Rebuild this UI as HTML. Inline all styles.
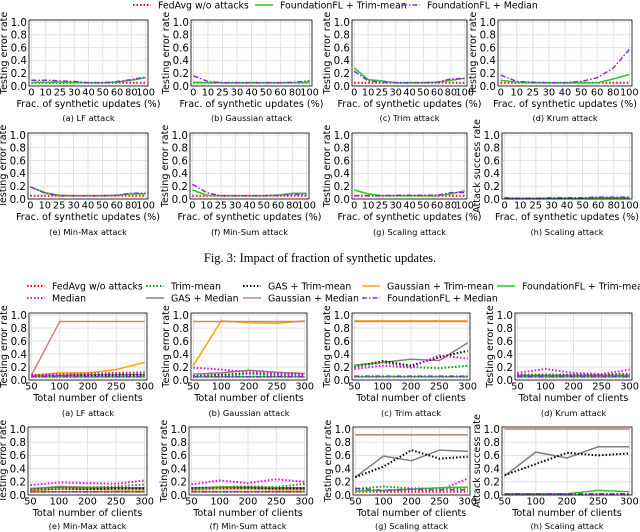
<!DOCTYPE html>
<html><head><meta charset="utf-8"><style>
body{margin:0;background:#fff;}
svg{display:block;font-family:"DejaVu Sans","Liberation Sans",sans-serif;}
</style></head><body>
<svg id="chart" width="640" height="532" viewBox="0 0 640 532" xmlns="http://www.w3.org/2000/svg">
<text x="320" y="262" text-anchor="middle" font-family="Liberation Serif, serif" font-size="12.5">Fig. 3: Impact of fraction of synthetic updates.</text>
</svg>
<script>
const fracTicks=["0","10","25","30","40","50","60","80","100"];
const clientTicks=["50","100","200","250","300"];
const yTicks=[0,0.2,0.4,0.6,0.8,1.0];
// Fig 3 series (per panel)
const f3Red=[0.05,0.05,0.05,0.05,0.05,0.05,0.05,0.01];
const f3Green=[
[0.06,0.06,0.06,0.06,0.05,0.05,0.06,0.09,0.13],
[0.06,0.05,0.05,0.05,0.05,0.05,0.05,0.05,0.06],
[0.28,0.10,0.08,0.05,0.05,0.05,0.06,0.09,0.12],
[0.09,0.06,0.05,0.05,0.05,0.05,0.05,0.11,0.18],
[0.19,0.10,0.06,0.05,0.05,0.05,0.06,0.08,0.08],
[0.14,0.06,0.05,0.05,0.05,0.05,0.06,0.09,0.09],
[0.14,0.08,0.05,0.05,0.05,0.05,0.05,0.08,0.13],
[0.01,0.01,0.01,0.01,0.01,0.01,0.02,0.02,0.02]];
const f3Purple=[
[0.09,0.09,0.08,0.07,0.05,0.05,0.07,0.10,0.14],
[0.16,0.07,0.05,0.05,0.05,0.05,0.05,0.06,0.08],
[0.23,0.08,0.06,0.05,0.05,0.05,0.06,0.11,0.12],
[0.17,0.07,0.06,0.05,0.05,0.07,0.13,0.28,0.57],
[0.19,0.09,0.05,0.05,0.05,0.05,0.06,0.09,0.09],
[0.23,0.10,0.05,0.05,0.05,0.05,0.06,0.07,0.07],
[0.05,0.05,0.05,0.06,0.06,0.06,0.06,0.10,0.10],
[0.02,0.01,0.01,0.02,0.02,0.02,0.03,0.03,0.03]];
// Fig 4 series (per panel a..h)
const f4Red=[0.05,0.05,0.05,0.05,0.05,0.05,0.05,0.01];
const f4Median=[[0.08,0.09,0.10,0.11,0.12],[0.19,0.16,0.12,0.10,0.09],[0.17,0.22,0.19,0.38,0.33],[0.11,0.17,0.11,0.09,0.16],[0.15,0.19,0.18,0.17,0.22],[0.16,0.22,0.18,0.24,0.20],[0.10,0.06,0.08,0.07,0.25],[0.01,0.01,0.01,0.01,0.01]];
const f4Trim=[[0.07,0.08,0.09,0.10,0.10],[0.05,0.06,0.10,0.07,0.06],[0.20,0.27,0.20,0.18,0.22],[0.07,0.08,0.07,0.07,0.08],[0.08,0.11,0.11,0.13,0.16],[0.08,0.12,0.13,0.12,0.17],[0.09,0.13,0.10,0.10,0.11],[0.01,0.01,0.01,0.01,0.01]];
const f4GasMed=[[0.06,0.07,0.08,0.08,0.08],[0.09,0.11,0.15,0.12,0.10],[0.23,0.27,0.32,0.30,0.57],[0.07,0.07,0.07,0.07,0.07],[0.10,0.12,0.11,0.11,0.11],[0.11,0.12,0.12,0.11,0.11],[0.27,0.59,0.52,0.68,0.66],[0.29,0.65,0.56,0.73,0.73]];
const f4GasTrim=[[0.06,0.07,0.07,0.08,0.08],[0.06,0.08,0.10,0.09,0.08],[0.20,0.29,0.22,0.35,0.45],[0.08,0.08,0.08,0.08,0.09],[0.08,0.10,0.09,0.10,0.10],[0.10,0.11,0.11,0.10,0.10],[0.27,0.43,0.68,0.55,0.58],[0.30,0.47,0.64,0.60,0.63]];
const f4GaussMed=[[0.07,0.90,0.90,0.90,0.90],[0.90,0.90,0.90,0.90,0.90],[0.90,0.90,0.90,0.90,0.90],[0.06,0.06,0.06,0.06,0.06],[0.09,0.13,0.12,0.11,0.10],[0.09,0.12,0.11,0.10,0.09],[0.91,0.91,0.91,0.91,0.91],[1.0,1.0,1.0,1.0,1.0]];
const f4GaussTrim=[[0.07,0.11,0.11,0.16,0.27],[0.22,0.91,0.88,0.87,0.91],[0.91,0.91,0.91,0.91,0.91],[0.06,0.06,0.06,0.06,0.06],[0.07,0.09,0.09,0.08,0.08],[0.08,0.09,0.09,0.08,0.08],[0.91,0.91,0.91,0.91,0.91],[1.0,1.0,1.0,1.0,1.0]];
const f4FlTrim=[[0.05,0.05,0.05,0.05,0.05],[0.05,0.05,0.05,0.05,0.05],[0.05,0.05,0.05,0.05,0.05],[0.05,0.05,0.05,0.05,0.05],[0.05,0.05,0.05,0.05,0.05],[0.05,0.05,0.05,0.05,0.05],[0.06,0.07,0.09,0.11,0.12],[0.02,0.02,0.02,0.07,0.05]];
const f4FlMed=[[0.05,0.05,0.05,0.05,0.05],[0.05,0.05,0.05,0.05,0.05],[0.06,0.06,0.06,0.06,0.06],[0.05,0.05,0.05,0.05,0.05],[0.05,0.05,0.05,0.05,0.05],[0.05,0.05,0.05,0.05,0.05],[0.10,0.07,0.09,0.08,0.08],[0.02,0.02,0.02,0.02,0.02]];
const captions=["(a) LF attack","(b) Gaussian attack","(c) Trim attack","(d) Krum attack","(e) Min-Max attack","(f) Min-Sum attack","(g) Scaling attack","(h) Scaling attack"];

const NS="http://www.w3.org/2000/svg";
const svg=document.getElementById('chart');
function mk(tag,attrs,parent,text){const e=document.createElementNS(NS,tag);for(const k in attrs)e.setAttribute(k,attrs[k]);if(text!==undefined)e.textContent=text;(parent||svg).appendChild(e);return e;}

const STY={
 red:{stroke:"#ff0000",dash:"1.5,2",w:2},
 green:{stroke:"#22cc22",dash:"",w:1.5},
 purple:{stroke:"#8a2be2",dash:"5,2,1.5,2",w:1.5},
 median:{stroke:"#ee00ee",dash:"1.5,2",w:2},
 trim:{stroke:"#119911",dash:"1.5,2",w:2},
 gasMed:{stroke:"#808080",dash:"",w:1.5},
 gasTrim:{stroke:"#000000",dash:"1.5,2",w:2},
 gaussMed:{stroke:"#c08a80",dash:"",w:1.5},
 gaussTrim:{stroke:"#ffa500",dash:"",w:1.5}
};

function panel(box,ticks,xlab,ylab,cap,series,idx,grpName){
 const g=mk('g',{},svg);
 
 
 const {x0,x1,y0,y1}=box;
 const n=ticks.length;
 const pad=(x1-x0)*0.02;
 const xs=i=>x0+pad+i*(x1-x0-2*pad)/(n-1);
 const yv=v=>y1-(v)*(y1-y0-2)/1.0;
 for(let i=0;i<n;i++){
  const l=mk('line',{x1:xs(i),x2:xs(i),y1:y0,y2:y1,stroke:"#e0e0e0","stroke-width":1},g);
  
  
  const t=mk('text',{x:xs(i),y:y1+9.5,"text-anchor":"middle","font-size":"9.8"},g,ticks[i]);
  
  
 }
 yTicks.forEach(v=>{
  const l=mk('line',{x1:x0,x2:x1,y1:yv(v),y2:yv(v),stroke:"#e0e0e0","stroke-width":1},g);
  
  
  const t=mk('text',{x:x0-2,y:yv(v)+3.8,"text-anchor":"end","font-size":"10.3"},g,v.toFixed(1));
  
  
 });
 series.forEach(s=>{
  const st=STY[s.k];
  const pts=s.v.map((v,i)=>xs(i).toFixed(1)+","+yv(v).toFixed(1)).join(" ");
  const p=mk('polyline',{points:pts,fill:"none",stroke:st.stroke,"stroke-width":st.w,"stroke-dasharray":st.dash},g);
  
  
 });
 const r=mk('rect',{x:x0,y:y0,width:x1-x0,height:y1-y0,fill:"none",stroke:"#000","stroke-width":0.8},g);
 
 
 const xl=mk('text',{x:(x0+x1)/2,y:y1+21,"text-anchor":"middle","font-size":"9.6"},g,xlab);
 
 
 const cy=(y0+y1)/2;
 const yl=mk('text',{x:x0-22,y:cy,"text-anchor":"middle","font-size":"9.6",transform:`rotate(-90 ${x0-22} ${cy})`},g,ylab);
 
 
 const c=mk('text',{x:(x0+x1)/2,y:cap,"text-anchor":"middle","font-size":"8.3"},g,captions[idx]);
 
 
}

const f3Boxes=[
 {x0:29,x1:148,y0:20,y1:86,c:121},{x0:191,x1:312,y0:20,y1:86,c:121},{x0:352,x1:467,y0:20,y1:86,c:121},{x0:498,x1:632,y0:20,y1:86,c:121},
 {x0:28,x1:148,y0:133,y1:199,c:235},{x0:190,x1:309,y0:133,y1:199,c:235},{x0:352,x1:467,y0:133,y1:199,c:235},{x0:502,x1:632,y0:133,y1:199,c:235}];
f3Boxes.forEach((b,i)=>{
 panel(b,fracTicks,"Frac. of synthetic updates (%)",i===7?"Attack success rate":"Testing error rate",b.c,
  [{k:"red",v:fracTicks.map(()=>f3Red[i])},{k:"green",v:f3Green[i]},{k:"purple",v:f3Purple[i]}],i,"fig3-panel-"+"abcdefgh"[i]);
});
const f4Boxes=[
 {x0:29,x1:147,y0:313,y1:380,c:416},{x0:191,x1:307,y0:313,y1:380,c:416},{x0:352,x1:470,y0:313,y1:380,c:416},{x0:515,x1:632,y0:313,y1:380,c:416},
 {x0:28,x1:147,y0:427,y1:495,c:529},{x0:189,x1:307,y0:427,y1:495,c:529},{x0:353,x1:470,y0:427,y1:495,c:529},{x0:502,x1:632,y0:427,y1:495,c:529}];
f4Boxes.forEach((b,i)=>{
 panel(b,clientTicks,"Total number of clients",i===7?"Attack success rate":"Testing error rate",b.c,
  [{k:"gaussTrim",v:f4GaussTrim[i]},{k:"gaussMed",v:f4GaussMed[i]},{k:"gasMed",v:f4GasMed[i]},{k:"gasTrim",v:f4GasTrim[i]},
   {k:"trim",v:f4Trim[i]},{k:"median",v:f4Median[i]},{k:"red",v:clientTicks.map(()=>f4Red[i])},{k:"green",v:f4FlTrim[i]},{k:"purple",v:f4FlMed[i]}],i,"fig4-panel-"+"abcdefgh"[i]);
});

function legend(x,y,k,label,name){
 const st=STY[k];
 const g=mk('g',{},svg);
 
 
 mk('line',{x1:x,x2:x+18,y1:y,y2:y,stroke:st.stroke,"stroke-width":st.w,"stroke-dasharray":st.dash},g);
 mk('text',{x:x+25,y:y+3.5,"font-size":"9.4"},g,label);
}
legend(133,5,"red","FedAvg w/o attacks","legend-fedavg");
legend(255,5,"green","FoundationFL + Trim-mean","legend-foundationfl-trim");
legend(402,5,"purple","FoundationFL + Median","legend-foundationfl-median");
legend(27,286,"red","FedAvg w/o attacks","legend4-fedavg");
legend(27,298,"median","Median","legend4-median");
legend(146,286,"trim","Trim-mean","legend4-trim");
legend(146,298,"gasMed","GAS + Median","legend4-gas-median");
legend(243,286,"gasTrim","GAS + Trim-mean","legend4-gas-trim");
legend(243,298,"gaussMed","Gaussian + Median","legend4-gaussian-median");
legend(362,286,"gaussTrim","Gaussian + Trim-mean","legend4-gaussian-trim");
legend(362,298,"purple","FoundationFL + Median","legend4-foundationfl-median");
legend(497,286,"green","FoundationFL + Trim-mean","legend4-foundationfl-trim");
</script>
</body></html>
